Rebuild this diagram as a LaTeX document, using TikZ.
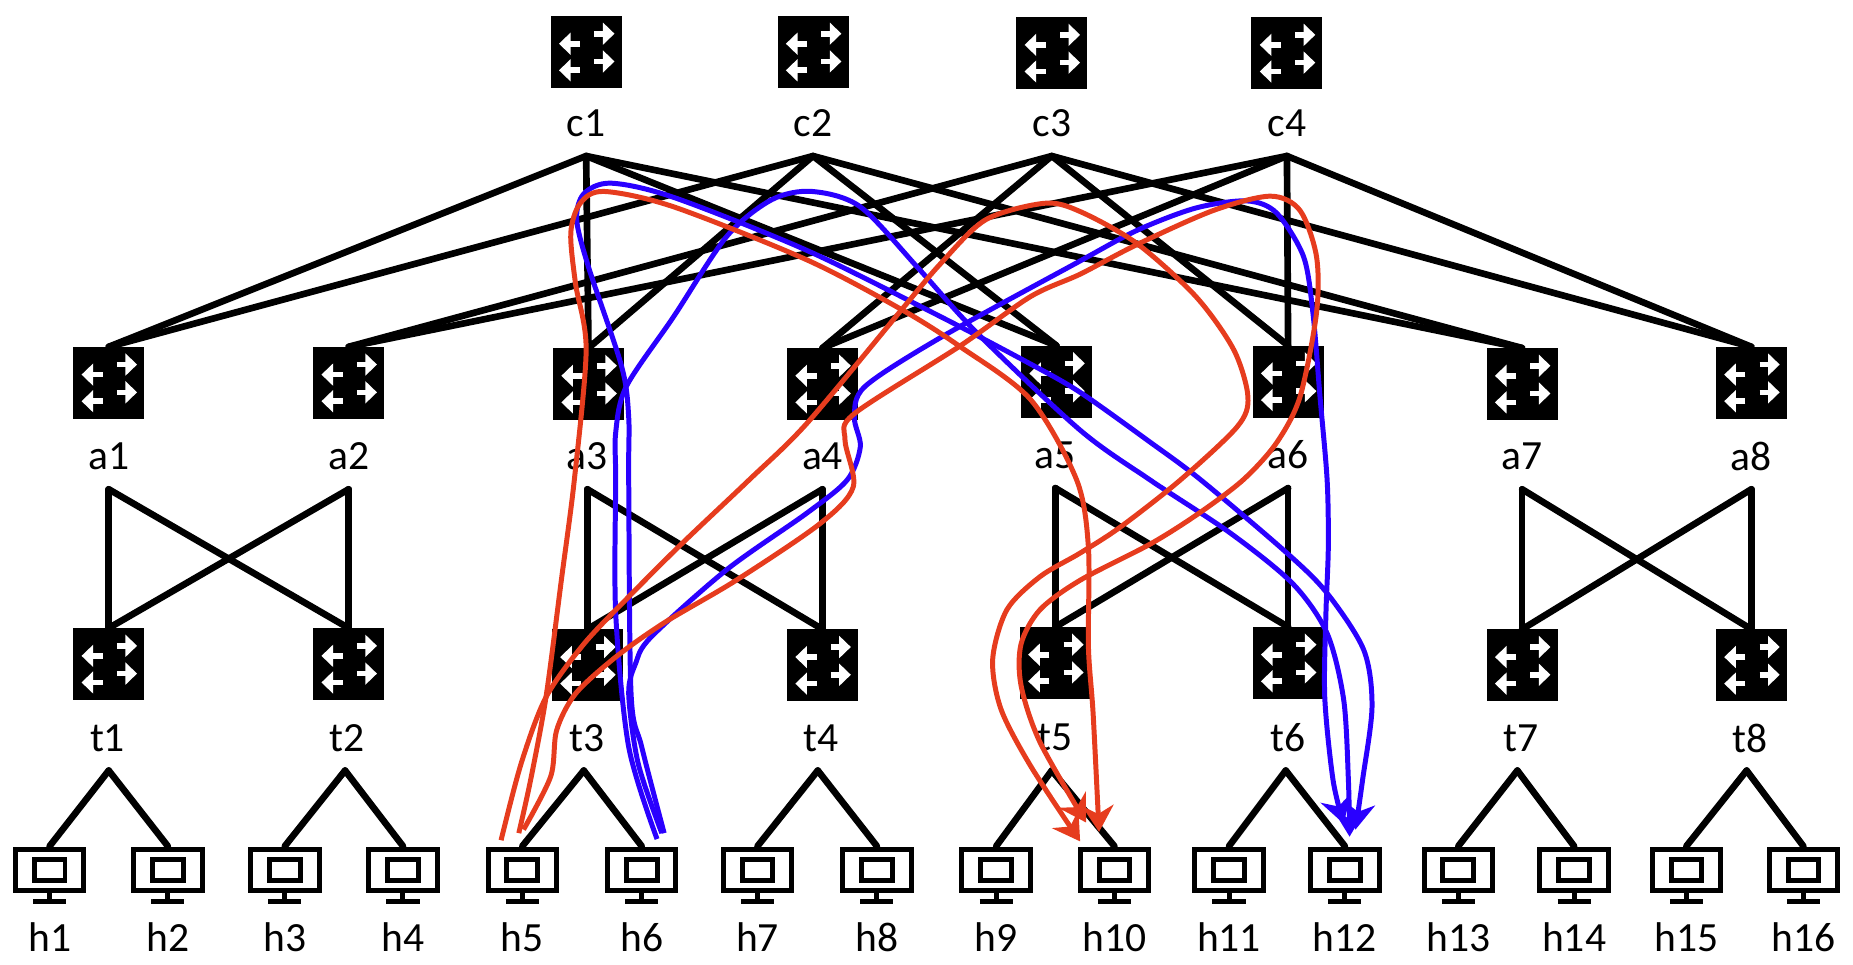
\documentclass[tikz,border=0pt]{standalone}
\usepackage{fontspec}
\setmainfont{Carlito}
\usetikzlibrary{arrows.meta}
\definecolor{pathblue}{HTML}{2A00FF}
\definecolor{pathred}{HTML}{E63C1E}
\begin{document}
\begin{tikzpicture}[x=0.025cm, y=-0.025cm,
    switchbox/.style={fill=black, inner sep=0pt, outer sep=0pt, minimum width=1.5cm, minimum height=1.525cm,
        path picture={
            \begin{scope}[shift={(path picture bounding box.center)}, white, line width=3.4pt, -{Triangle[length=7pt, width=13pt]}]
                \draw (7,-15.5) -- (24,-15.5);
                \draw (7,8) -- (24,8);
                \draw (-5,-7) -- (-23,-7);
                \draw (-5,15.5) -- (-23,15.5);
            \end{scope}}},
    hostbox/.style={inner sep=0pt, outer sep=0pt, minimum width=1.6cm, minimum height=1.3cm,
        path picture={
            \begin{scope}[shift={(path picture bounding box.center)}, line width=3pt]
                \draw (-29,-23.5) rectangle (29,11.5);
                \draw (-13,-14.5) rectangle (13,3);
                \draw (0,12) -- (0,21);
                \draw (-14,21) -- (14,21);
            \end{scope}}},
    tag/.style={inner sep=0pt, outer sep=0pt, minimum height=1.4cm, font=\fontsize{25}{25}\selectfont},
    link/.style={line width=4pt, line cap=round, line join=round},
    route/.style={line width=3pt, -{Stealth[length=16pt, width=19pt]}}]
    \useasboundingbox (0,0) rectangle (1568,816.5);

    % core
    \node [switchbox] (c1) at (496,44) {};
    \node [switchbox] (c2) at (688,44) {};
    \node [switchbox] (c3) at (890,45) {};
    \node [switchbox] (c4) at (1089,45) {};
    \node [tag] (c1l) at (496,104) {c1};
    \node [tag] (c2l) at (688,104) {c2};
    \node [tag] (c3l) at (890,104) {c3};
    \node [tag] (c4l) at (1089,104) {c4};

    % aggregation
    \node [switchbox] (a1) at (92,324) {};
    \node [switchbox] (a2) at (295,324) {};
    \node [switchbox] (a3) at (498,325) {};
    \node [switchbox] (a4) at (696,325) {};
    \node [switchbox] (a5) at (894,323) {};
    \node [switchbox] (a6) at (1090,323) {};
    \node [switchbox] (a7) at (1288,325) {};
    \node [switchbox] (a8) at (1482,324) {};
    \node [tag] (a1l) at (92,386) {a1};
    \node [tag] (a2l) at (295,386) {a2};
    \node [tag] (a3l) at (497,386) {a3};
    \node [tag] (a4l) at (696,386) {a4};
    \node [tag] (a5l) at (893,385) {a5};
    \node [tag] (a6l) at (1090,385) {a6};
    \node [tag] (a7l) at (1288,386) {a7};
    \node [tag] (a8l) at (1482,386) {a8};

    % top of rack
    \node [switchbox] (t1) at (92,562) {};
    \node [switchbox] (t2) at (295,562) {};
    \node [switchbox] (t3) at (497,563) {};
    \node [switchbox] (t4) at (696,563) {};
    \node [switchbox] (t5) at (893,561) {};
    \node [switchbox] (t6) at (1090,561) {};
    \node [switchbox] (t7) at (1288,563) {};
    \node [switchbox] (t8) at (1482,563) {};
    \node [tag] (t1l) at (91,625) {t1};
    \node [tag] (t2l) at (294,625) {t2};
    \node [tag] (t3l) at (497,625) {t3};
    \node [tag] (t4l) at (695,625) {t4};
    \node [tag] (t5l) at (893,624) {t5};
    \node [tag] (t6l) at (1090,624) {t6};
    \node [tag] (t7l) at (1287,625) {t7};
    \node [tag] (t8l) at (1481,625) {t8};
    \coordinate (t1f) at (92,652);
    \coordinate (t2f) at (292,652);
    \coordinate (t3f) at (494,652);
    \coordinate (t4f) at (692,652);
    \coordinate (t5f) at (890,652);
    \coordinate (t6f) at (1088,652);
    \coordinate (t7f) at (1284,652);
    \coordinate (t8f) at (1478,652);

    % hosts
    \node [hostbox] (h1) at (42,742) {};
    \node [hostbox] (h2) at (142,742) {};
    \node [hostbox] (h3) at (241,742) {};
    \node [hostbox] (h4) at (341,742) {};
    \node [hostbox] (h5) at (442,742) {};
    \node [hostbox] (h6) at (543,742) {};
    \node [hostbox] (h7) at (641,742) {};
    \node [hostbox] (h8) at (742,742) {};
    \node [hostbox] (h9) at (843,742) {};
    \node [hostbox] (h10) at (943,742) {};
    \node [hostbox] (h11) at (1040,742) {};
    \node [hostbox] (h12) at (1138,742) {};
    \node [hostbox] (h13) at (1234,742) {};
    \node [hostbox] (h14) at (1332,742) {};
    \node [hostbox] (h15) at (1427,742) {};
    \node [hostbox] (h16) at (1526,742) {};
    \node [tag] (h1l) at (42,793) {h1};
    \node [tag] (h2l) at (142,793) {h2};
    \node [tag] (h3l) at (241,793) {h3};
    \node [tag] (h4l) at (341,793) {h4};
    \node [tag] (h5l) at (442,793) {h5};
    \node [tag] (h6l) at (543,793) {h6};
    \node [tag] (h7l) at (641,793) {h7};
    \node [tag] (h8l) at (742,793) {h8};
    \node [tag] (h9l) at (843,793) {h9};
    \node [tag] (h10l) at (943,793) {h10};
    \node [tag] (h11l) at (1040,793) {h11};
    \node [tag] (h12l) at (1138,793) {h12};
    \node [tag] (h13l) at (1234,793) {h13};
    \node [tag] (h14l) at (1332,793) {h14};
    \node [tag] (h15l) at (1427,793) {h15};
    \node [tag] (h16l) at (1526,793) {h16};

    % core to aggregation
    \draw [link] (c1l.south) -- (a1.north);
    \draw [link] (c1l.south) -- (a3.north);
    \draw [link] (c1l.south) -- (a5.north);
    \draw [link] (c1l.south) -- (a7.north);
    \draw [link] (c2l.south) -- (a1.north);
    \draw [link] (c2l.south) -- (a3.north);
    \draw [link] (c2l.south) -- (a5.north);
    \draw [link] (c2l.south) -- (a7.north);
    \draw [link] (c3l.south) -- (a2.north);
    \draw [link] (c3l.south) -- (a4.north);
    \draw [link] (c3l.south) -- (a6.north);
    \draw [link] (c3l.south) -- (a8.north);
    \draw [link] (c4l.south) -- (a2.north);
    \draw [link] (c4l.south) -- (a4.north);
    \draw [link] (c4l.south) -- (a6.north);
    \draw [link] (c4l.south) -- (a8.north);

    % aggregation to top of rack
    \draw [link] (a1l.south) -- (t1.north);
    \draw [link] (a1l.south) -- (t2.north);
    \draw [link] (a2l.south) -- (t1.north);
    \draw [link] (a2l.south) -- (t2.north);
    \draw [link] (a3l.south) -- (t3.north);
    \draw [link] (a3l.south) -- (t4.north);
    \draw [link] (a4l.south) -- (t3.north);
    \draw [link] (a4l.south) -- (t4.north);
    \draw [link] (a5l.south) -- (t5.north);
    \draw [link] (a5l.south) -- (t6.north);
    \draw [link] (a6l.south) -- (t5.north);
    \draw [link] (a6l.south) -- (t6.north);
    \draw [link] (a7l.south) -- (t7.north);
    \draw [link] (a7l.south) -- (t8.north);
    \draw [link] (a8l.south) -- (t7.north);
    \draw [link] (a8l.south) -- (t8.north);

    % top of rack to hosts
    \draw [link] (t1f) -- (h1.north);
    \draw [link] (t1f) -- (h2.north);
    \draw [link] (t2f) -- (h3.north);
    \draw [link] (t2f) -- (h4.north);
    \draw [link] (t3f) -- (h5.north);
    \draw [link] (t3f) -- (h6.north);
    \draw [link] (t4f) -- (h7.north);
    \draw [link] (t4f) -- (h8.north);
    \draw [link] (t5f) -- (h9.north);
    \draw [link] (t5f) -- (h10.north);
    \draw [link] (t6f) -- (h11.north);
    \draw [link] (t6f) -- (h12.north);
    \draw [link] (t7f) -- (h13.north);
    \draw [link] (t7f) -- (h14.north);
    \draw [link] (t8f) -- (h15.north);
    \draw [link] (t8f) -- (h16.north);

    % routes
    \coordinate (ra1) at (439,705);
    \coordinate (ra2) at (930,704);
    \coordinate (rb1) at (424,711);
    \coordinate (rb2) at (914,712);
    \coordinate (rc1) at (443,702);
    \coordinate (rc2) at (919,696);
    \coordinate (ba1) at (556,710);
    \coordinate (ba2) at (1142,708);
    \coordinate (bb1) at (562,705);
    \coordinate (bb2) at (1147,702);
    \coordinate (bc1) at (560,705);
    \coordinate (bc2) at (1137,697);

    \draw [route, pathblue] plot [smooth] coordinates {(ba1) (532,632) (521,519) (521,406) (521,366) (530,327) (570,268) (615,200) (653,169) (687,162) (728,175) (778,228) (827,282) (914,364) (973,406) (1041,451) (1094,494) (1123,536) (1137,592) (1141,660) (ba2)};
    \draw [route, pathblue] plot [smooth] coordinates {(bb1) (543,632) (534,587) (532,406) (532,353) (526,310) (498,226) (488,186) (494,164) (517,155) (570,167) (683,212) (796,268) (872,308) (914,332) (973,374) (1016,406) (1089,468) (1123,502) (1154,550) (1161,598) (1153,660) (bb2)};
    \draw [route, pathblue] plot [smooth] coordinates {(bc1) (540,646) (532,587) (538,561) (551,539) (615,482) (683,434) (717,406) (728,378) (723,353) (732,327) (797,285) (910,223) (962,195) (1012,176) (1055,170) (1080,180) (1103,217) (1111,265) (1117,336) (1123,406) (1124,463) (1122,519) (1121,590) (1128,660) (bc2)};
    \draw [route, pathred] plot [smooth] coordinates {(ra1) (449,660) (462,590) (475,491) (486,406) (496,296) (487,240) (483,197) (491,172) (511,162) (570,175) (683,220) (763,262) (812,293) (872,338) (911,406) (921,463) (921,547) (925,604) (ra2)};
    \draw [route, pathred] plot [smooth] coordinates {(rb1) (441,646) (462,590) (494,545) (532,505) (577,460) (634,406) (683,358) (763,262) (796,223) (834,186) (884,172) (914,179) (962,206) (1012,251) (1044,296) (1056,336) (1047,361) (999,406) (948,446) (914,468) (880,488) (852,516) (840,558) (847,600) (872,648) (rb2)};
    \draw [route, pathred] plot [smooth] coordinates {(rc1) (466,657) (471,618) (487,587) (521,556) (562,527) (623,491) (694,443) (722,412) (715,372) (723,350) (812,293) (872,251) (914,232) (962,207) (1027,178) (1075,166) (1100,178) (1114,217) (1114,265) (1100,336) (1080,375) (1052,406) (1015,434) (974,460) (914,491) (880,516) (864,545) (864,580) (880,628) (rc2)};
\end{tikzpicture}
\end{document}
